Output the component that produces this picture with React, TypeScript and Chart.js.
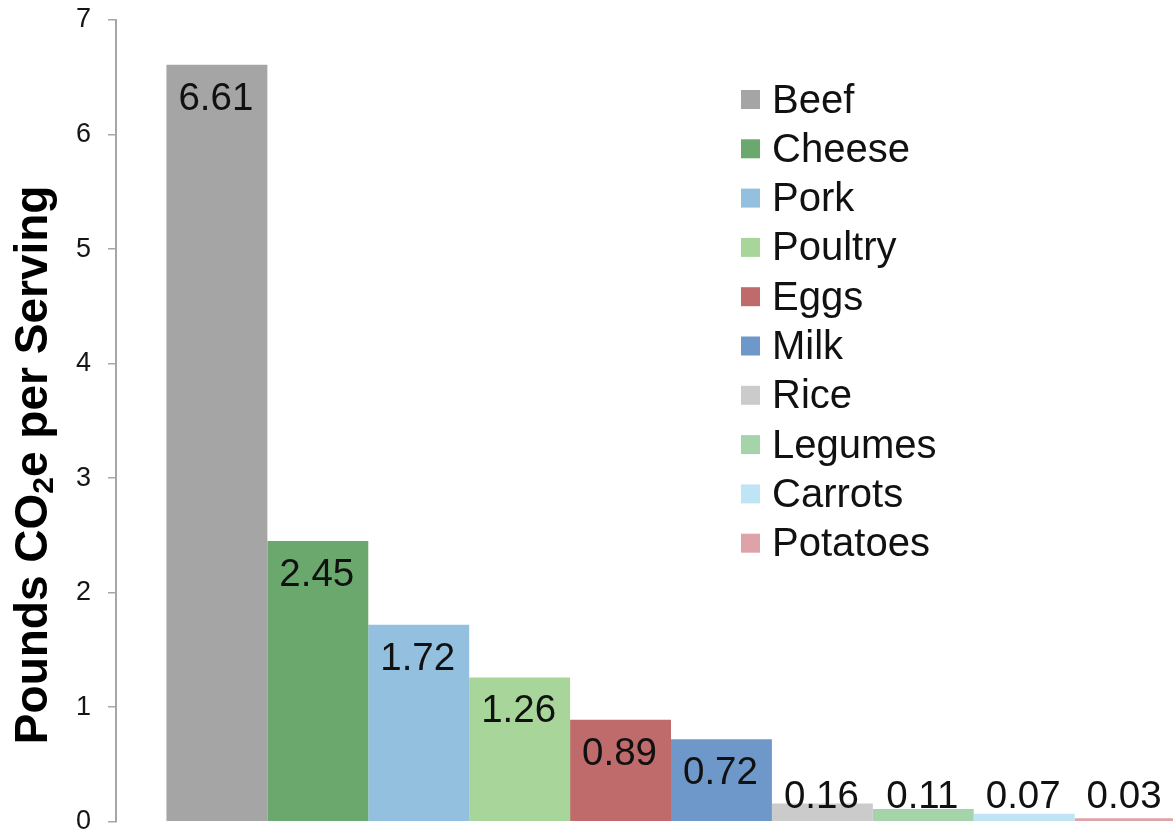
import React, { useEffect, useRef } from "react";
import { Chart, registerables } from "chart.js";

Chart.register(...registerables);

// ---- data ----
const categoryLabels = ["Food"];
const foods = ["Beef", "Cheese", "Pork", "Poultry", "Eggs", "Milk", "Rice", "Legumes", "Carrots", "Potatoes"];
const emissions = [6.61, 2.45, 1.72, 1.26, 0.89, 0.72, 0.16, 0.11, 0.07, 0.03];
const barColors = [
  "#a5a5a5",
  "#6aa86d",
  "#94c0e0",
  "#a8d69a",
  "#bf6b6b",
  "#6e98c9",
  "#cbcbcb",
  "#a5d3aa",
  "#bfe4f5",
  "#dea3a8",
];
const yMin = 0;
const yMax = 7;
const yStep = 1;
const yTitleParts = ["Pounds CO", "2", "e per Serving"];

const FONT = "'Liberation Sans', Arial, Helvetica, sans-serif";

const valueLabelPlugin = {
  id: "valueLabels",
  afterDatasetsDraw(chart: any) {
    const ctx = chart.ctx;
    const zero = chart.scales.y.getPixelForValue(0);
    ctx.save();
    ctx.font = `38.5px ${FONT}`;
    ctx.fillStyle = "#111111";
    ctx.textAlign = "center";
    ctx.textBaseline = "alphabetic";
    chart.data.datasets.forEach((ds: any, i: number) => {
      const meta = chart.getDatasetMeta(i);
      meta.data.forEach((bar: any, j: number) => {
        const v = ds.data[j];
        if (v == null) return;
        const baseline = Math.min(bar.y + 45, zero - 14);
        ctx.fillText(Number(v).toFixed(2), bar.x - 1, baseline);
      });
    });
    ctx.restore();
  },
};

const legendPlugin = {
  id: "insideLegend",
  afterDraw(chart: any) {
    const ctx = chart.ctx;
    const area = chart.chartArea;
    const x0 = area.left + 625;
    const y0 = area.top + 79.5;
    const rowH = 49.3;
    const box = 19;
    ctx.save();
    ctx.font = `40px ${FONT}`;
    ctx.textAlign = "left";
    ctx.textBaseline = "alphabetic";
    chart.data.datasets.forEach((ds: any, i: number) => {
      const cy = y0 + i * rowH;
      ctx.fillStyle = ds.backgroundColor;
      ctx.fillRect(x0, cy - box / 2, box, box);
      ctx.fillStyle = "#111111";
      ctx.fillText(ds.label, x0 + 31, cy + 13);
    });
    ctx.restore();
  },
};

const yTitlePlugin = {
  id: "yTitle",
  afterDraw(chart: any) {
    const ctx = chart.ctx;
    const area = chart.chartArea;
    const mainFont = `bold 46px ${FONT}`;
    const subFont = `bold 30px ${FONT}`;
    ctx.save();
    ctx.fillStyle = "#000000";
    ctx.textBaseline = "alphabetic";
    ctx.textAlign = "left";
    ctx.font = mainFont;
    const w0 = ctx.measureText(yTitleParts[0]).width;
    const w2 = ctx.measureText(yTitleParts[2]).width;
    ctx.font = subFont;
    const w1 = ctx.measureText(yTitleParts[1]).width;
    const total = w0 + w1 + w2;
    const cx = area.left - 69;
    const cy = (area.top + area.bottom) / 2 + 44;
    ctx.translate(cx, cy);
    ctx.rotate(-Math.PI / 2);
    let x = -total / 2;
    ctx.font = mainFont;
    ctx.fillText(yTitleParts[0], x, 0);
    x += w0;
    ctx.font = subFont;
    ctx.fillText(yTitleParts[1], x, 6);
    x += w1;
    ctx.font = mainFont;
    ctx.fillText(yTitleParts[2], x, 0);
    ctx.restore();
  },
};

function ChartCanvas() {
  const ref = useRef<HTMLCanvasElement | null>(null);
  useEffect(() => {
    if (!ref.current) return;
    const datasets = foods.map((name, i) => ({
      label: name,
      data: [emissions[i]],
      backgroundColor: barColors[i],
      borderWidth: 0,
      categoryPercentage: 10 / 11,
      barPercentage: 1,
    }));
    const chart = new Chart(ref.current, {
      type: "bar",
      data: { labels: categoryLabels, datasets },
      options: {
        responsive: false,
        animation: false,
        layout: { padding: { left: 0, right: 0, top: 20, bottom: 38.3 } },
        plugins: {
          legend: { display: false },
          tooltip: { enabled: false },
          title: { display: false },
        },
        scales: {
          x: {
            display: false,
            offset: true,
            grid: { display: false },
          },
          y: {
            min: yMin,
            max: yMax,
            afterFit: (axis: any) => {
              axis.width = 116;
              axis.paddingTop = 0;
              axis.paddingBottom = 0;
            },
            border: { display: true, color: "#a6a6a6", width: 2 },
            grid: {
              drawOnChartArea: false,
              drawTicks: true,
              tickLength: 8,
              color: "#a6a6a6",
              lineWidth: 1.5,
            },
            ticks: {
              stepSize: yStep,
              padding: 17,
              color: "#151515",
              font: { family: FONT, size: 27 },
            },
          },
        },
      },
      plugins: [valueLabelPlugin, legendPlugin, yTitlePlugin],
    });
    return () => chart.destroy();
  }, []);
  return <canvas ref={ref} width={1226} height={860} style={{ display: "block", width: 1226, height: 860 }} />;
}

export default function App() {
  return (
    <div
      style={{
        position: "absolute",
        left: 0,
        top: 0,
        width: 1173,
        height: 833,
        overflow: "hidden",
        background: "#ffffff",
      }}
    >
      <ChartCanvas />
    </div>
  );
}
